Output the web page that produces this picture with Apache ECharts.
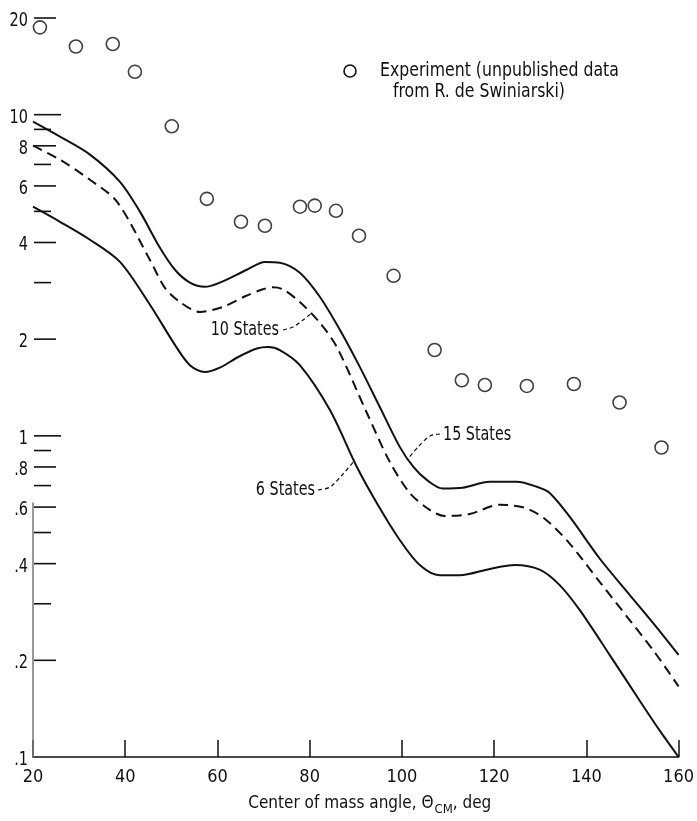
<!DOCTYPE html>
<html><head><meta charset="utf-8">
<script src="https://cdn.jsdelivr.net/npm/echarts@6/dist/echarts.min.js"></script>
<style>html,body{margin:0;padding:0;background:#fff}#c{width:697px;height:821px}</style>
</head><body><div id="c"></div>
<script>
const FONT = '"Liberation Sans Narrow","DejaVu Sans Condensed",sans-serif';
const X_MIN = 20, X_MAX = 160, X_STEP = 20;
const Y_MIN = 0.1, Y_MAX = 20;

const yLabelValues = [0.1, 0.2, 0.4, 0.6, 0.8, 1, 2, 4, 6, 8, 10, 20];
const yLabelTexts  = ['.1', '.2', '.4', '.6', '.8', '1', '2', '4', '6', '8', '10', '20'];
const yTicksLong  = [1, 10];
const yTicksMid   = [0.2, 0.4, 0.6, 0.8, 2, 4, 6, 8, 20];
const yTicksShort = [0.3, 0.5, 0.7, 0.9, 3, 5, 7, 9];

const expAngle = [21.5, 29.3, 37.3, 42.1, 50.1, 57.7, 65.1, 70.3, 77.9, 81.1, 85.7, 90.7, 98.2, 107.1, 113.0, 118.0, 127.1, 137.3, 147.2, 156.3];
const expValue = [18.7, 16.3, 16.6, 13.6, 9.2, 5.47, 4.64, 4.51, 5.17, 5.21, 5.02, 4.20, 3.15, 1.85, 1.49, 1.44, 1.43, 1.45, 1.27, 0.92];

const s15Angle = [20, 25.85, 32.35, 38.86, 43.19, 47.53, 50.78, 54.03, 57.28, 60.53, 66.38, 70.28, 73.53, 77.87, 82.20, 86.54, 90.87, 95.21, 99.54, 102.5, 105.39, 108.86, 113.19, 119.05, 124.90, 129.23, 132.05, 136.38, 142.89, 149.39, 154.81, 160];
const s15Value = [9.51, 8.54, 7.51, 6.18, 4.99, 3.85, 3.29, 3.00, 2.91, 3.00, 3.29, 3.48, 3.46, 3.22, 2.71, 2.14, 1.64, 1.23, 0.924, 0.80, 0.729, 0.685, 0.689, 0.719, 0.719, 0.694, 0.664, 0.560, 0.415, 0.320, 0.258, 0.208];

const s10Angle = [20, 25.85, 32.35, 38.21, 45.36, 48.61, 51.86, 56.19, 61.18, 66.0, 69.85, 72.0, 74.18, 77.87, 82.20, 85.89, 92.39, 97.37, 101.71, 106.04, 109.29, 114.71, 121.21, 126.63, 130.97, 136.38, 142.89, 149.39, 154.81, 160];
const s10Value = [8.01, 7.24, 6.27, 5.36, 3.53, 2.89, 2.61, 2.43, 2.52, 2.72, 2.86, 2.90, 2.86, 2.61, 2.25, 1.89, 1.18, 0.830, 0.664, 0.588, 0.563, 0.571, 0.610, 0.597, 0.552, 0.462, 0.351, 0.267, 0.212, 0.166];

const s6Angle = [20, 25.85, 32.35, 38.86, 45.36, 50.78, 54.03, 57.28, 60.53, 64.5, 68.55, 71.0, 73.53, 77.87, 84.37, 90.22, 94.55, 99.54, 103.87, 108.21, 112.54, 119.05, 124.47, 129.88, 134.22, 138.55, 145.05, 151.55, 155.89, 160];
const s6Value = [5.17, 4.64, 4.08, 3.48, 2.56, 1.92, 1.66, 1.58, 1.63, 1.76, 1.87, 1.89, 1.85, 1.66, 1.205, 0.801, 0.618, 0.474, 0.396, 0.368, 0.368, 0.385, 0.396, 0.383, 0.343, 0.287, 0.208, 0.150, 0.121, 0.1];

const zip = (a, b) => a.map((v, i) => [v, b[i]]);
const INK = '#111';

function tickSeries(values, len) {
  return {
    type: 'custom', coordinateSystem: 'cartesian2d', silent: true, clip: false, z: 5,
    data: values.map(v => [X_MIN, v]),
    encode: { x: 0, y: 1 },
    renderItem: (params, api) => {
      const p = api.coord([api.value(0), api.value(1)]);
      return { type: 'line', shape: { x1: p[0] + 1, y1: p[1], x2: p[0] + 1 + len, y2: p[1] },
        style: { stroke: INK, lineWidth: 1.6 } };
    }
  };
}

const labelSeries = {
  type: 'custom', coordinateSystem: 'cartesian2d', silent: true, clip: false, z: 5,
  data: yLabelValues.map(v => [X_MIN, v]),
  encode: { x: 0, y: 1 },
  renderItem: (params, api) => {
    const p = api.coord([api.value(0), api.value(1)]);
    return { type: 'text', x: p[0] - 5, y: p[1] + 3, scaleX: 0.85,
      style: { text: yLabelTexts[params.dataIndex],
        align: 'right', verticalAlign: 'middle', fontSize: 19, fontFamily: FONT, fill: INK } };
  }
};

const txt = (x, y, text, align, sx) => ({ type: 'text', x: x, y: y, scaleX: sx,
  style: { text: text, fontSize: 19, fontFamily: FONT, fill: INK, align: align, verticalAlign: 'middle' } });
const leader = pts => ({ type: 'polyline', shape: { points: pts, smooth: 0.3 },
  style: { stroke: INK, lineWidth: 1.2, lineDash: [4, 3], fill: null } });

const lineCommon = { smooth: 0.3, symbol: 'none', silent: true };

const chart = echarts.init(document.getElementById('c'), null, { renderer: 'canvas' });
chart.setOption({
  backgroundColor: '#fff',
  animation: false,
  grid: { left: 33, right: 18, top: 18, bottom: 47, containLabel: false },
  xAxis: {
    type: 'value', min: X_MIN, max: X_MAX, interval: X_STEP,
    axisLine: { show: true, onZero: false, lineStyle: { color: INK, width: 1.6 } },
    axisTick: { show: true, inside: true, length: 17, lineStyle: { color: INK, width: 1.5 } },
    axisLabel: { margin: 11, fontSize: 18, fontFamily: FONT, color: INK },
    splitLine: { show: false },
    name: '{n|Center of mass angle, Θ}{s|CM}{n|, deg}',
    nameLocation: 'middle', nameGap: 34,
    nameTextStyle: {
      padding: [0, 0, 0, 28],
      rich: {
        n: { fontSize: 17, fontFamily: FONT, color: INK },
        s: { fontSize: 13, fontFamily: FONT, color: INK, padding: [12, 0, 0, 1] }
      }
    }
  },
  yAxis: {
    type: 'log', logBase: 10, min: Y_MIN, max: Y_MAX,
    axisLine: { show: false }, axisTick: { show: false }, axisLabel: { show: false },
    splitLine: { show: false }
  },
  series: [
    { type: 'line', data: zip([X_MIN, X_MIN], [Y_MIN, 0.62]), symbol: 'none', silent: true,
      lineStyle: { color: '#777', width: 1.5 }, z: 4 },
    tickSeries(yTicksLong, 27),
    tickSeries(yTicksMid, 22),
    tickSeries(yTicksShort, 17),
    labelSeries,
    Object.assign({ name: '15 States', type: 'line', data: zip(s15Angle, s15Value),
      lineStyle: { color: INK, width: 2 } }, lineCommon),
    Object.assign({ name: '10 States', type: 'line', data: zip(s10Angle, s10Value),
      lineStyle: { color: INK, width: 2, type: [10, 6] } }, lineCommon),
    Object.assign({ name: '6 States', type: 'line', data: zip(s6Angle, s6Value),
      lineStyle: { color: INK, width: 2 } }, lineCommon),
    { name: 'Experiment', type: 'scatter', data: zip(expAngle, expValue), symbol: 'circle', symbolSize: 13,
      itemStyle: { color: '#fff', borderColor: INK, borderWidth: 1.6 }, z: 6 }
  ],
  graphic: [
    { type: 'circle', shape: { cx: 350, cy: 71, r: 6 }, style: { fill: '#fff', stroke: INK, lineWidth: 1.6 } },
    txt(380, 71, 'Experiment (unpublished data', 'left', 0.92),
    txt(393, 92, 'from R. de Swiniarski)', 'left', 0.92),
    txt(279, 330, '10 States', 'right', 0.84),
    txt(443, 435, '15 States', 'left', 0.84),
    txt(315, 490, '6 States', 'right', 0.84),
    leader([[283, 330], [293, 327], [303, 320], [313, 312]]),
    leader([[440, 434], [430, 436], [418, 447], [407, 460]]),
    leader([[318, 490], [330, 487], [343, 474], [355, 460]])
  ]
});
</script>
</body></html>
